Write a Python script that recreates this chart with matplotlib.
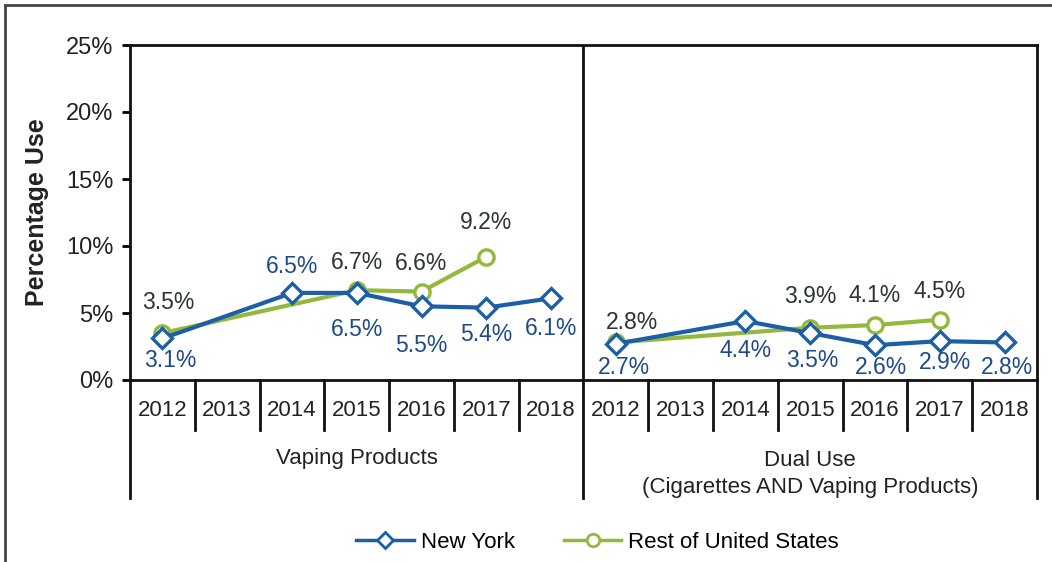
import matplotlib
matplotlib.use("Agg")
import matplotlib.pyplot as plt
import matplotlib.transforms as mtransforms
from matplotlib.lines import Line2D

# ---- data ----
years = ["2012", "2013", "2014", "2015", "2016", "2017", "2018"]
groups = ["Vaping Products", "Dual Use\n(Cigarettes AND Vaping Products)"]

ny_vaping = [3.1, None, 6.5, 6.5, 5.5, 5.4, 6.1]
us_vaping = [3.5, None, None, 6.7, 6.6, 9.2, None]
ny_dual = [2.7, None, 4.4, 3.5, 2.6, 2.9, 2.8]
us_dual = [2.8, None, None, 3.9, 4.1, 4.5, None]

yticks = [0, 5, 10, 15, 20, 25]

# label offsets (pixels) for each point: (dx, dy)
ny_vaping_off = [(8, -22), None, (0, 26), (0, -37), (0, -39), (0, -27), (0, -30)]
us_vaping_off = [(6, 31), None, None, (0, 28), (0, 28), (0, 34), None]
ny_dual_off = [(8, -24), None, (0, -29), (2, -27), (6, -22), (5, -21), (2, -25)]
us_dual_off = [(16, 20), None, None, (0, 31), (0, 30), (0, 28), None]

BLUE = "#1d5fa6"
GREEN = "#94b83e"
BLUE_TXT = "#1f4a8a"
GREEN_TXT = "#2c3530"

plt.rcParams['font.family'] = ['Liberation Sans', 'DejaVu Sans']

fig = plt.figure(figsize=(10.52, 5.62), dpi=100)
ax = fig.add_axes([130/1052, 1-380/562, (1037-130)/1052, (380-45)/562])

n = len(years)


def plot_series(vals, offset, color, marker, ms, offs, txtcolor):
    xs = [offset + i for i, v in enumerate(vals) if v is not None]
    ys = [v for v in vals if v is not None]
    ax.plot(xs, ys, color=color, lw=3, marker=marker, ms=ms, mfc='white',
            mec=color, mew=2.4, zorder=3, clip_on=False)
    for i, v in enumerate(vals):
        if v is None:
            continue
        dx, dy = offs[i]
        ax.annotate(f"{v:.1f}%", (offset + i, v), xytext=(dx, dy),
                    textcoords='offset pixels', ha='center', va='center',
                    fontsize=16.5, color=txtcolor, zorder=4)


plot_series(us_vaping, 0, GREEN, 'o', 11, us_vaping_off, GREEN_TXT)
plot_series(ny_vaping, 0, BLUE, 'D', 10.5, ny_vaping_off, BLUE_TXT)
plot_series(us_dual, n, GREEN, 'o', 11, us_dual_off, GREEN_TXT)
plot_series(ny_dual, n, BLUE, 'D', 10.5, ny_dual_off, BLUE_TXT)

ax.set_xlim(-0.5, 2*n - 0.5)
ax.set_ylim(0, 25)
ax.set_yticks(yticks)
ax.set_yticklabels([f"{t}%" for t in yticks], fontsize=17, color="#222222")
ax.tick_params(axis='y', length=6, width=2, pad=6, direction='out')
ax.set_xticks([])
for s in ax.spines.values():
    s.set_linewidth(2)
    s.set_color("#111111")
ax.axvline(n - 0.5, color="#111111", lw=2)

ax.set_ylabel("Percentage Use", fontsize=18, fontweight='bold', labelpad=12,
              color="#222222")

trans = mtransforms.blended_transform_factory(ax.transData, ax.transAxes)
# category separators
for k in range(2*n + 1):
    x = k - 0.5
    long = k in (0, n, 2*n)
    y1 = -0.352 if long else -0.15
    ax.add_line(Line2D([x, x], [0, y1], transform=trans, color="#111111",
                       lw=2, clip_on=False))
# year labels
for g in range(2):
    for i, yr in enumerate(years):
        ax.text(g*n + i, -0.092, yr, transform=trans, ha='center', va='center',
                fontsize=16, color="#222222")
ax.text((n - 1)/2, -0.233, groups[0], transform=trans, ha='center',
        va='center', fontsize=16, color="#222222")
ax.text(n + (n - 1)/2, -0.28, groups[1], transform=trans, ha='center',
        va='center', fontsize=16, color="#222222", linespacing=1.35)

# legend
handles = [Line2D([], [], color=BLUE, lw=2.5, marker='D', ms=8, mfc='white',
                  mec=BLUE, mew=2),
           Line2D([], [], color=GREEN, lw=2.5, marker='o', ms=9, mfc='white',
                  mec=GREEN, mew=2)]
fig.legend(handles, ["New York", "Rest of United States"], ncol=2,
           loc='center', bbox_to_anchor=(0.568, 0.035), frameon=False,
           fontsize=16, handlelength=2.6, columnspacing=2.2, handletextpad=0.3)

# outer frame (top and left)
fig.add_artist(Line2D([0.005, 1.0], [0.991, 0.991], transform=fig.transFigure,
                      color="#444444", lw=2))
fig.add_artist(Line2D([0.005, 0.005], [0.0, 0.991], transform=fig.transFigure,
                      color="#444444", lw=2))

fig.savefig("out.png", dpi=100, facecolor='white')
